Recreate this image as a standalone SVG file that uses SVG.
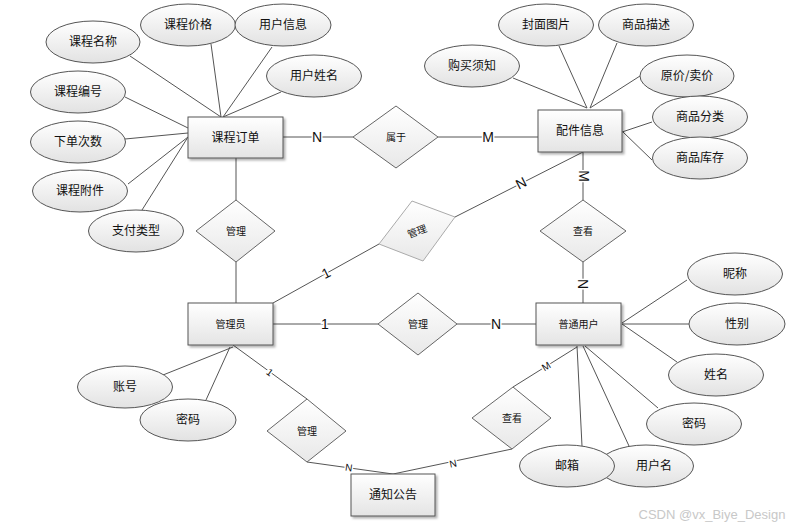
<svg xmlns="http://www.w3.org/2000/svg" width="794" height="529" viewBox="0 0 794 529">
<defs>
<linearGradient id="gEnt" x1="0" y1="0" x2="0" y2="1"><stop offset="0" stop-color="#ffffff"/><stop offset="1" stop-color="#e4e4e4"/></linearGradient>
<linearGradient id="gAttr" x1="0" y1="0" x2="0" y2="1"><stop offset="0" stop-color="#ffffff"/><stop offset="1" stop-color="#e2e2e2"/></linearGradient>
<linearGradient id="gRel" x1="0" y1="0" x2="0" y2="1"><stop offset="0" stop-color="#ffffff"/><stop offset="1" stop-color="#e8e8e8"/></linearGradient>
<filter id="sh" x="-10%" y="-10%" width="130%" height="140%"><feDropShadow dx="2" dy="2" stdDeviation="1" flood-color="#000" flood-opacity="0.3"/></filter>
<style>
.ent rect{fill:url(#gEnt);stroke:#555;stroke-width:1;filter:url(#sh)}
.attr ellipse{fill:url(#gAttr);stroke:#555;stroke-width:1}
.rel polygon{fill:url(#gRel);stroke:#666;stroke-width:1}
.t{font-family:"Noto Sans CJK SC","Liberation Sans",sans-serif;font-size:12px;text-anchor:middle;fill:#111}
.ts{font-family:"Noto Sans CJK SC","Liberation Sans",sans-serif;font-size:10px;text-anchor:middle;fill:#111}
.conn line,.conn polyline{stroke:#555;stroke-width:1;fill:none}
.lb{font-family:"Liberation Sans",Arial,sans-serif;font-size:14px;text-anchor:middle;fill:#111;stroke:#fff;stroke-width:3px;paint-order:stroke}
.lbs{font-family:"Liberation Sans",Arial,sans-serif;font-size:10px;text-anchor:middle;fill:#111;stroke:#fff;stroke-width:3px;paint-order:stroke}
</style>
</defs>
<rect width="794" height="529" fill="#fff"/>
<g id="connectors" class="conn">
<line x1="130" y1="56" x2="221" y2="117"/>
<line x1="211" y1="44" x2="221" y2="117"/>
<line x1="272" y1="47" x2="223" y2="117"/>
<line x1="281" y1="92" x2="223" y2="117"/>
<line x1="125" y1="97" x2="188" y2="128"/>
<line x1="125" y1="139" x2="188" y2="133"/>
<line x1="128" y1="184" x2="188" y2="137"/>
<line x1="142" y1="210" x2="188" y2="137"/>
<line x1="283" y1="137" x2="353" y2="137"/>
<line x1="438" y1="137" x2="538" y2="137"/>
<line x1="236" y1="158" x2="236" y2="200"/>
<line x1="236" y1="262" x2="236" y2="303"/>
<line x1="513" y1="78" x2="587" y2="108"/>
<line x1="559" y1="46" x2="587" y2="108"/>
<line x1="617" y1="43" x2="590" y2="108"/>
<line x1="640" y1="76" x2="590" y2="108"/>
<line x1="652" y1="122" x2="622" y2="132"/>
<line x1="652" y1="160" x2="623" y2="132"/>
<line x1="583" y1="152" x2="583" y2="200"/>
<line x1="583" y1="262" x2="583" y2="303"/>
<line x1="273" y1="303" x2="379" y2="244"/>
<line x1="455" y1="217" x2="583" y2="152"/>
<line x1="273" y1="324" x2="378" y2="324"/>
<line x1="457" y1="324" x2="536" y2="324"/>
<line x1="687" y1="280" x2="622" y2="323"/>
<line x1="689" y1="324" x2="622" y2="324"/>
<line x1="677" y1="362" x2="622" y2="324"/>
<line x1="658" y1="408" x2="585" y2="346"/>
<line x1="629" y1="446" x2="583" y2="346"/>
<line x1="582" y1="446" x2="577" y2="346"/>
<line x1="577" y1="347" x2="513" y2="387"/>
<polyline points="512,449 393,474 307,462"/>
<line x1="233" y1="345" x2="307" y2="399"/>
<line x1="163" y1="375" x2="233" y2="347"/>
<line x1="206" y1="400" x2="230" y2="347"/>
<text class="lb" x="317" y="142">N</text>
<text class="lb" x="488" y="142">M</text>
<text class="lb" transform="translate(584,176) rotate(90)" y="5">M</text>
<text class="lb" transform="translate(583,284) rotate(90)" y="5">N</text>
<text class="lb" transform="translate(521,183) rotate(-27)" y="5">N</text>
<text class="lb" transform="translate(326,273) rotate(-27)" y="5">1</text>
<text class="lb" x="325" y="329">1</text>
<text class="lb" x="496" y="329">N</text>
<text class="lbs" transform="translate(270,372) rotate(36)" y="4">1</text>
<text class="lbs" transform="translate(546,366) rotate(-32)" y="4">M</text>
<text class="lbs" transform="translate(453,463) rotate(-12)" y="4">N</text>
<text class="lbs" transform="translate(349,467) rotate(8)" y="4">N</text>
</g>
<g id="attr-kcmc" class="attr"><ellipse cx="93" cy="42" rx="47" ry="21"/><text class="t" x="93" y="46">课程名称</text></g>
<g id="attr-kcjg" class="attr"><ellipse cx="188" cy="25" rx="47.5" ry="21"/><text class="t" x="188" y="29">课程价格</text></g>
<g id="attr-yhxx" class="attr"><ellipse cx="283" cy="25" rx="48" ry="21"/><text class="t" x="283" y="29">用户信息</text></g>
<g id="attr-yhxm" class="attr"><ellipse cx="314" cy="76" rx="47.5" ry="21"/><text class="t" x="314" y="80">用户姓名</text></g>
<g id="attr-kcbh" class="attr"><ellipse cx="78" cy="92" rx="47.5" ry="21"/><text class="t" x="78" y="96">课程编号</text></g>
<g id="attr-xdcs" class="attr"><ellipse cx="78" cy="142" rx="47.5" ry="21"/><text class="t" x="78" y="146">下单次数</text></g>
<g id="attr-kcfj" class="attr"><ellipse cx="80" cy="191" rx="47.5" ry="21"/><text class="t" x="80" y="195">课程附件</text></g>
<g id="attr-zflx" class="attr"><ellipse cx="136" cy="231" rx="47.5" ry="21"/><text class="t" x="136" y="235">支付类型</text></g>
<g id="attr-fmtp" class="attr"><ellipse cx="546" cy="25" rx="47.5" ry="21"/><text class="t" x="546" y="29">封面图片</text></g>
<g id="attr-spms" class="attr"><ellipse cx="646" cy="25" rx="47.5" ry="21"/><text class="t" x="646" y="29">商品描述</text></g>
<g id="attr-gmxz" class="attr"><ellipse cx="472" cy="66" rx="47.5" ry="21"/><text class="t" x="472" y="70">购买须知</text></g>
<g id="attr-yjmj" class="attr"><ellipse cx="687" cy="76" rx="47" ry="21"/><text class="t" x="687" y="80">原价/卖价</text></g>
<g id="attr-spfl" class="attr"><ellipse cx="700" cy="117" rx="47.5" ry="21"/><text class="t" x="700" y="121">商品分类</text></g>
<g id="attr-spkc" class="attr"><ellipse cx="700" cy="158" rx="47.5" ry="21"/><text class="t" x="700" y="162">商品库存</text></g>
<g id="attr-zh" class="attr"><ellipse cx="125" cy="387" rx="47.5" ry="21"/><text class="t" x="125" y="391">账号</text></g>
<g id="attr-mm1" class="attr"><ellipse cx="188" cy="420" rx="48" ry="21"/><text class="t" x="188" y="424">密码</text></g>
<g id="attr-nc" class="attr"><ellipse cx="735" cy="274" rx="47.5" ry="21"/><text class="t" x="735" y="278">昵称</text></g>
<g id="attr-xb" class="attr"><ellipse cx="737" cy="324" rx="48" ry="21"/><text class="t" x="737" y="328">性别</text></g>
<g id="attr-xm" class="attr"><ellipse cx="716" cy="375" rx="47.5" ry="21"/><text class="t" x="716" y="379">姓名</text></g>
<g id="attr-mm2" class="attr"><ellipse cx="694" cy="424" rx="47.5" ry="21"/><text class="t" x="694" y="428">密码</text></g>
<g id="attr-yhm" class="attr"><ellipse cx="646" cy="466" rx="47.5" ry="21"/><text class="t" x="654" y="470">用户名</text></g>
<g id="attr-yx" class="attr"><ellipse cx="567" cy="466" rx="47.5" ry="21"/><text class="t" x="567" y="470">邮箱</text></g>
<g id="rel-sy" class="rel"><polygon points="353,137 396,106 438,137 396,168"/><text class="ts" x="396" y="141">属于</text></g>
<g id="rel-gl1" class="rel"><polygon points="196,231 236,200 275,231 236,262"/><text class="ts" x="236" y="235">管理</text></g>
<g id="rel-ck1" class="rel"><polygon points="540,231 583,200 626,231 583,262"/><text class="ts" x="583" y="235">查看</text></g>
<g id="rel-gl2" class="rel"><polygon points="412,201 455,217 423,261 379,244" style="stroke:#aaa"/><text class="ts" transform="translate(417,231) rotate(-20)" y="4">管理</text></g>
<g id="rel-gl3" class="rel"><polygon points="378,324 418,293 457,324 418,355"/><text class="ts" x="418" y="328">管理</text></g>
<g id="rel-gl4" class="rel"><polygon points="267,431 307,399 346,431 307,462"/><text class="ts" x="307" y="435">管理</text></g>
<g id="rel-ck2" class="rel"><polygon points="472,418 513,387 551,418 512,449"/><text class="ts" x="512" y="422">查看</text></g>
<g id="ent-kcdd" class="ent"><rect x="188" y="117" width="95" height="41"/><text class="t" x="235.5" y="141.5">课程订单</text></g>
<g id="ent-pjxx" class="ent"><rect x="538" y="110" width="84" height="42"/><text class="t" x="580" y="135">配件信息</text></g>
<g id="ent-gly" class="ent"><rect x="188" y="303" width="85" height="42"/><text class="ts" x="230.5" y="328">管理员</text></g>
<g id="ent-ptyh" class="ent"><rect x="536" y="303" width="85" height="42"/><text class="ts" x="578.5" y="328">普通用户</text></g>
<g id="ent-tzgg" class="ent"><rect x="351" y="474" width="84" height="42"/><text class="t" x="393" y="499">通知公告</text></g>
<text x="712" y="519" style="font-family:'Liberation Sans',Arial,sans-serif;font-size:13px;fill:#c8c8c8;text-anchor:middle">CSDN @vx_Biye_Design</text>
</svg>
